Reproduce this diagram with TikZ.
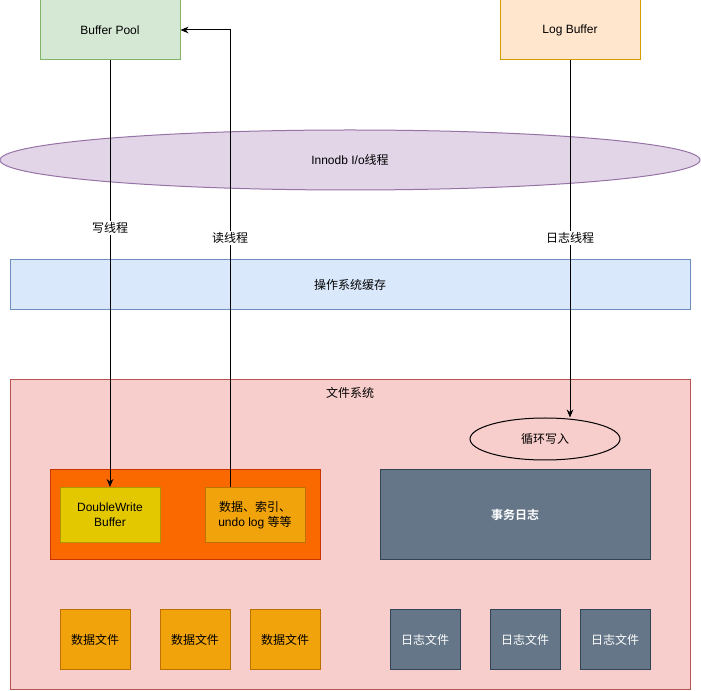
\documentclass[tikz,border=0pt]{standalone}
\usepackage{fontspec}
\setmainfont{Liberation Sans}
\newfontfamily\cjk{Noto Sans CJK SC}
\newfontfamily\cjkb{Noto Sans CJK SC Bold}
\usetikzlibrary{arrows.meta,shapes.geometric,calc}
\definecolor{gfill}{HTML}{D5E8D4}\definecolor{gline}{HTML}{82B366}
\definecolor{ofill}{HTML}{FFE6CC}\definecolor{oline}{HTML}{D79B00}
\definecolor{pfill}{HTML}{E1D5E7}\definecolor{pline}{HTML}{9673A6}
\definecolor{bfill}{HTML}{DAE8FC}\definecolor{bline}{HTML}{6C8EBF}
\definecolor{rfill}{HTML}{F8CECC}\definecolor{rline}{HTML}{B85450}
\definecolor{dofill}{HTML}{FA6800}\definecolor{doline}{HTML}{C73500}
\definecolor{yfill}{HTML}{E3C800}\definecolor{yline}{HTML}{B09500}
\definecolor{afill}{HTML}{F0A30A}\definecolor{aline}{HTML}{BD7000}
\definecolor{sfill}{HTML}{647687}\definecolor{sline}{HTML}{314354}
\tikzset{
  x=0.75pt, y=-0.75pt,
  every node/.style={font=\fontsize{9pt}{11pt}\selectfont, align=center, inner sep=0pt},
  box/.style={draw, rectangle, line width=0.75pt},
  arr/.style={draw, line width=0.75pt, -{Stealth[length=6pt,width=5pt]}},
  lbl/.style={fill=white, inner sep=1pt},
}
\begin{document}
\begin{tikzpicture}
\useasboundingbox (0,0) rectangle (701,691);
% background containers
\node[box, fill=rfill, draw=rline, minimum width=510pt, minimum height=232.5pt] (fs) at (350,535) {};
\node (fslbl) at (350,393) {\cjk 文件系统};
\node[box, fill=bfill, draw=bline, minimum width=510pt, minimum height=37.5pt] (os) at (350,285) {\cjk 操作系统缓存};
\node[draw=pline, fill=pfill, ellipse, line width=0.75pt, minimum width=525pt, minimum height=45pt] (io) at (350,160) {Innodb I/o{\cjk 线程}};
% top buffers
\node[box, fill=gfill, draw=gline, minimum width=105pt, minimum height=45pt] (bp) at (110,30) {Buffer Pool};
\node[box, fill=ofill, draw=oline, minimum width=105pt, minimum height=45pt] (lb) at (570,30) {Log Buffer};
% file system contents
\node[draw=black, ellipse, line width=0.75pt, minimum width=112.5pt, minimum height=31.5pt] (xh) at (545,439) {\cjk 循环写入};
\node[box, fill=dofill, draw=doline, minimum width=202.5pt, minimum height=67.5pt] (ob) at (185,515) {};
\node[box, fill=yfill, draw=yline, minimum width=75pt, minimum height=41.25pt] (dw) at (110,515) {DoubleWrite\\Buffer};
\node[box, fill=afill, draw=aline, minimum width=75pt, minimum height=41.25pt] (dat) at (255,515) {{\cjk 数据、索引、}\\undo log {\cjk 等等}};
\node[box, fill=sfill, draw=sline, text=white, minimum width=202.5pt, minimum height=67.5pt] (sw) at (515,515) {\cjkb 事务日志};
\node[box, fill=afill, draw=aline, minimum width=52.5pt, minimum height=45pt] (df1) at (95,640) {\cjk 数据文件};
\node[box, fill=afill, draw=aline, minimum width=52.5pt, minimum height=45pt] (df2) at (195,640) {\cjk 数据文件};
\node[box, fill=afill, draw=aline, minimum width=52.5pt, minimum height=45pt] (df3) at (285,640) {\cjk 数据文件};
\node[box, fill=sfill, draw=sline, text=white, minimum width=52.5pt, minimum height=45pt] (lf1) at (425,640) {\cjk 日志文件};
\node[box, fill=sfill, draw=sline, text=white, minimum width=52.5pt, minimum height=45pt] (lf2) at (525,640) {\cjk 日志文件};
\node[box, fill=sfill, draw=sline, text=white, minimum width=52.5pt, minimum height=45pt] (lf3) at (615,640) {\cjk 日志文件};
% connectors
\coordinate (rs) at ($(dat.north)+(-25,0)$);
\coordinate (rc) at (230,30);
\draw[arr] (bp.south) -- (dw.north);
\draw[arr] (rs) -- (rc) -- (bp.east);
\draw[arr] (lb.south) -- (lb.south |- xh.north);
\node[lbl] (wl) at (110,228) {\cjk 写线程};
\node[lbl] (rl) at (230,238) {\cjk 读线程};
\node[lbl] (ll) at (570,238) {\cjk 日志线程};
\end{tikzpicture}
\end{document}
